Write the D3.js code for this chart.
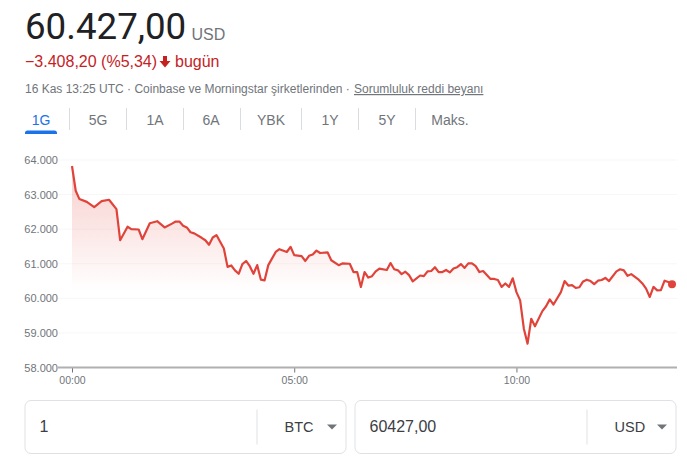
<!DOCTYPE html>
<html lang="tr">
<head>
<meta charset="utf-8">
<title>BTC / USD</title>
<script src="https://cdn.jsdelivr.net/npm/d3@7"></script>
<style>
  html, body { margin: 0; padding: 0; background: #fff; }
  svg { display: block; }
  text { font-family: "Liberation Sans", Arial, sans-serif; }
</style>
</head>
<body>
<svg id="chart" width="687" height="462"></svg>
<script>
// minutes since 00:00, every ~5 minutes
const minutes = [0, 5, 10, 20, 30, 40, 50, 60, 65, 75, 80, 90, 95, 105, 115, 125, 135, 140, 145, 150, 155, 160, 165, 175, 180, 185, 190, 195, 205, 210, 215, 220, 225, 230, 235, 240, 245, 250, 255, 260, 265, 275, 280, 290, 295, 300, 310, 315, 320, 325, 330, 335, 345, 350, 360, 365, 375, 380, 385, 390, 395, 400, 405, 410, 415, 425, 430, 435, 440, 445, 450, 455, 460, 470, 475, 480, 485, 490, 495, 500, 505, 510, 515, 520, 525, 530, 535, 540, 545, 550, 555, 565, 570, 575, 580, 585, 590, 595, 600, 605, 610, 615, 620, 625, 635, 640, 645, 650, 660, 665, 670, 675, 680, 685, 690, 695, 700, 705, 710, 715, 720, 725, 735, 740, 745, 750, 755, 765, 770, 775, 780, 785, 790, 795, 800, 805, 810];
const prices = [63826, 63110, 62870, 62790, 62640, 62810, 62850, 62580, 61680, 62070, 62000, 61990, 61710, 62170, 62230, 62050, 62160, 62220, 62220, 62100, 62050, 61910, 61880, 61750, 61680, 61550, 61760, 61830, 61440, 60910, 60950, 60810, 60710, 60990, 61080, 60930, 60710, 60960, 60540, 60520, 60960, 61340, 61420, 61340, 61490, 61250, 61220, 61080, 61230, 61270, 61380, 61310, 61330, 61100, 60960, 61010, 61000, 60760, 60760, 60330, 60760, 60600, 60640, 60780, 60860, 60820, 61020, 60840, 60810, 60700, 60770, 60670, 60490, 60660, 60640, 60780, 60790, 60900, 60760, 60760, 60820, 60750, 60860, 60900, 60990, 60880, 61010, 61010, 60930, 60760, 60790, 60560, 60560, 60530, 60330, 60430, 60330, 60580, 60180, 59940, 59120, 58690, 59410, 59190, 59630, 59770, 59970, 59820, 60180, 60500, 60370, 60380, 60300, 60320, 60490, 60540, 60500, 60410, 60510, 60530, 60590, 60500, 60780, 60840, 60810, 60650, 60700, 60540, 60430, 60280, 60040, 60330, 60230, 60240, 60510, 60470, 60410];
const yTicks = [58000, 59000, 60000, 61000, 62000, 63000, 64000];
const xTicks = [0, 300, 600];
const tabs = ['1G', '5G', '1A', '6A', 'YBK', '1Y', '5Y', 'Maks.'];
const converters = [
  { amount: '1', currency: 'BTC' },
  { amount: '60427,00', currency: 'USD' },
];

const svg = d3.select('#chart');
const red = '#e0433a';
const grey = '#70757a';

// header
svg.append('text').attr('x', 25).attr('y', 39)
  .attr('font-size', 36.7).attr('fill', '#202124')
  .style('font-family', 'Roboto').text('60.427,00');
svg.append('text').attr('x', 191.5).attr('y', 40)
  .attr('font-size', 16).attr('fill', grey).text('USD');
svg.append('text').attr('x', 25).attr('y', 67)
  .attr('font-size', 16).attr('fill', '#c5221f').text('−3.408,20 (%5,34)');
svg.append('path').attr('d', 'M163 56h4v5h3.5l-5.5 6.5l-5.5-6.5h3.5z').attr('fill', '#c5221f');
svg.append('text').attr('x', 175).attr('y', 67)
  .attr('font-size', 16).attr('fill', '#c5221f').text('bugün');
svg.append('text').attr('x', 25).attr('y', 93)
  .attr('font-size', 12).attr('fill', grey)
  .text('16 Kas 13:25 UTC · Coinbase ve Morningstar şirketlerinden · ');
svg.append('text').attr('x', 354).attr('y', 93)
  .attr('font-size', 12).attr('fill', grey).attr('text-decoration', 'underline')
  .text('Sorumluluk reddi beyanı');

// range tabs
const tabCenters = [41, 98, 155, 211, 271, 330, 387, 450];
const tabEdges = [69.5, 126.5, 183.5, 240.5, 301.5, 358.5, 415.5];
svg.selectAll('.tab').data(tabs).join('text')
  .attr('class', 'tab')
  .attr('x', (d, i) => tabCenters[i]).attr('y', 125)
  .attr('text-anchor', 'middle').attr('font-size', 14)
  .attr('fill', (d, i) => (i === 0 ? '#1a73e8' : grey))
  .text(d => d);
svg.selectAll('.tab-sep').data(tabEdges).join('line')
  .attr('class', 'tab-sep')
  .attr('x1', d => d).attr('x2', d => d).attr('y1', 108).attr('y2', 130)
  .attr('stroke', '#dadce0');
svg.append('path').attr('d', 'M25 134v-1a2.5 2.5 0 0 1 2.5-2.5h27a2.5 2.5 0 0 1 2.5 2.5v1z').attr('fill', '#1a73e8');

// plot
const x = d3.scaleLinear().domain([0, 810]).range([72, 672]);
const y = d3.scaleLinear().domain([58000, 64000]).range([367.5, 160]);
const series = minutes.map((m, i) => ({ m, p: prices[i] }));

const grad = svg.append('defs').append('linearGradient')
  .attr('id', 'fade').attr('x1', 0).attr('x2', 0).attr('y1', 0).attr('y2', 1);
grad.append('stop').attr('offset', 0).attr('stop-color', '#e0433a').attr('stop-opacity', 0.26);
grad.append('stop').attr('offset', 1).attr('stop-color', '#e0433a').attr('stop-opacity', 0);

svg.append('g').selectAll('line').data(yTicks.slice(1)).join('line')
  .attr('x1', 58).attr('x2', 677)
  .attr('y1', d => y(d)).attr('y2', d => y(d))
  .attr('stroke', '#f7f7f7');

const area = d3.area().x(d => x(d.m)).y0(y(60200)).y1(d => Math.min(y(d.p), y(60200)));
svg.append('path').datum(series)
  .attr('d', area).attr('fill', 'url(#fade)');

const line = d3.line().x(d => x(d.m)).y(d => y(d.p));
svg.append('path').datum(series)
  .attr('d', line).attr('fill', 'none')
  .attr('stroke', red).attr('stroke-width', 2.2).attr('stroke-linejoin', 'round');

const last = series[series.length - 1];
svg.append('circle').attr('cx', x(last.m)).attr('cy', y(last.p)).attr('r', 4).attr('fill', red);

// axes
const yAxis = d3.axisLeft(y).tickValues(yTicks).tickSize(0).tickPadding(0)
  .tickFormat(d => d3.format(',')(d).replace(',', '.'));
const yG = svg.append('g').attr('transform', 'translate(58,0)').call(yAxis);
yG.select('.domain').remove();
yG.selectAll('text').attr('fill', grey).attr('font-size', 11);

const xAxis = d3.axisBottom(x).tickValues(xTicks).tickSize(5).tickPadding(4)
  .tickFormat(d => d3.format('02')(d / 60) + ':00');
const xG = svg.append('g').attr('transform', 'translate(0,367.5)').call(xAxis);
xG.select('.domain').remove();
xG.selectAll('line').attr('stroke', '#70757a');
xG.selectAll('text').attr('fill', grey).attr('font-size', 10.5);
svg.append('line').attr('x1', 58).attr('x2', 677).attr('y1', 367.5).attr('y2', 367.5)
  .attr('stroke', '#b0b0b0').attr('stroke-width', 2);

// converter boxes
const boxLeft = [25, 355];
const box = svg.selectAll('.box').data(converters).join('g')
  .attr('class', 'box')
  .attr('transform', (d, i) => `translate(${boxLeft[i]},400.5)`);
box.append('rect').attr('width', 321).attr('height', 53).attr('rx', 6)
  .attr('fill', '#fff').attr('stroke', '#dfe1e5');
box.append('line').attr('x1', 232).attr('x2', 232).attr('y1', 9).attr('y2', 44).attr('stroke', '#dfe1e5');
box.append('text').attr('x', 14.5).attr('y', 31).attr('font-size', 16).attr('fill', '#3c4043')
  .text(d => d.amount);
box.append('text').attr('x', 259.5).attr('y', 31).attr('font-size', 14.5).attr('fill', '#3c4043')
  .text(d => d.currency);
box.append('path').attr('d', 'M302 24h10l-5 5z').attr('fill', '#70757a');
</script>
</body>
</html>
